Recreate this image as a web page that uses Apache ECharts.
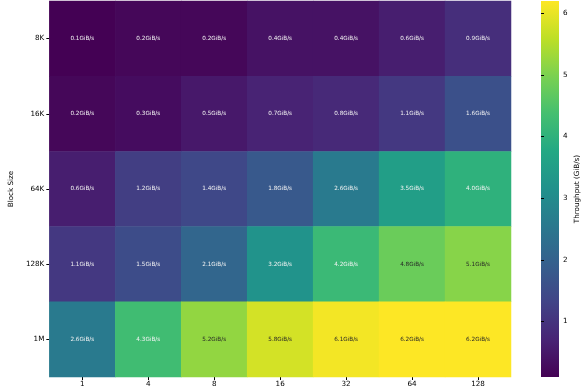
<!DOCTYPE html>
<html><head><meta charset="utf-8">
<script src="https://cdn.jsdelivr.net/npm/echarts@6/dist/echarts.min.js"></script>
<style>html,body{margin:0;padding:0;background:#fff}#c{width:585px;height:390px}</style>
</head><body><div id="c"></div>
<script>
const threads = ['1','4','8','16','32','64','128'];
const blockSizes = ['8K','16K','64K','128K','1M'];
const row8K   = [0.1,0.2,0.2,0.4,0.4,0.6,0.9];
const row16K  = [0.2,0.3,0.5,0.7,0.8,1.1,1.6];
const row64K  = [0.6,1.2,1.4,1.8,2.6,3.5,4.0];
const row128K = [1.1,1.5,2.1,3.2,4.2,4.8,5.1];
const row1M   = [2.6,4.3,5.2,5.8,6.1,6.2,6.2];
const colorbarTicks = [1,2,3,4,5,6];
const vMin = 0.1, vMax = 6.2;

const rows = [row8K,row16K,row64K,row128K,row1M];
const viridis = ['#440154','#482475','#414487','#355f8d','#2a788e','#21918c','#22a884','#44bf70','#7ad151','#bddf26','#fde725'];
const FONT = 'DejaVu Sans';
const data = [];
rows.forEach((r, yi) => r.forEach((v, xi) => {
  data.push({value:[xi, yi, v], label:{color: v >= 4.6 ? '#262626' : '#f4f4f4'}});
}));

const chart = echarts.init(document.getElementById('c'), null, {renderer:'canvas'});
const gradient = new echarts.graphic.LinearGradient(0,1,0,0,
  viridis.map((c,i)=>({offset:i/(viridis.length-1), color:c})));
chart.setOption({
  animation:false,
  grid:[
    {left:40, top:1, width:471, height:376},
    {left:541, top:1, width:18, height:376, show:true, borderWidth:0, backgroundColor:gradient}
  ],
  xAxis:[
    {type:'category', gridIndex:0, data:threads, axisLine:{show:false},
     axisTick:{show:true, alignWithLabel:true, length:3, lineStyle:{color:'#000'}},
     axisLabel:{color:'#000', fontFamily:FONT, fontSize:7.2, margin:4}, splitArea:{show:false}},
    {type:'value', gridIndex:1, show:false, min:0, max:1}
  ],
  yAxis:[
    {type:'category', gridIndex:0, data:blockSizes, inverse:true, axisLine:{show:false},
     axisTick:{show:true, alignWithLabel:true, length:3, lineStyle:{color:'#000'}},
     axisLabel:{color:'#000', fontFamily:FONT, fontSize:7.2, margin:5},
     name:'Block Size', nameLocation:'middle', nameRotate:90, nameGap:31,
     nameTextStyle:{color:'#000', fontFamily:FONT, fontSize:7.2}, splitArea:{show:false}},
    {type:'value', gridIndex:1, position:'right', min:vMin, max:vMax,
     axisLine:{show:false}, splitLine:{show:false},
     axisTick:{show:true, length:3, lineStyle:{color:'#000'}, customValues:colorbarTicks},
     axisLabel:{color:'#000', fontFamily:FONT, fontSize:7.2, margin:4, customValues:colorbarTicks},
     name:'Throughput (GiB/s)', nameLocation:'middle', nameRotate:90, nameGap:14.5,
     nameTextStyle:{color:'#000', fontFamily:FONT, fontSize:7.2}}
  ],
  visualMap:{show:false, min:vMin, max:vMax, seriesIndex:0, inRange:{color:viridis}},
  series:[{
    type:'heatmap', xAxisIndex:0, yAxisIndex:0, data:data,
    label:{show:true, fontFamily:FONT, fontSize:5.7,
      formatter:p=>p.value[2].toFixed(1)+'GiB/s'},
    itemStyle:{borderWidth:0}
  }]
});
</script></body></html>
